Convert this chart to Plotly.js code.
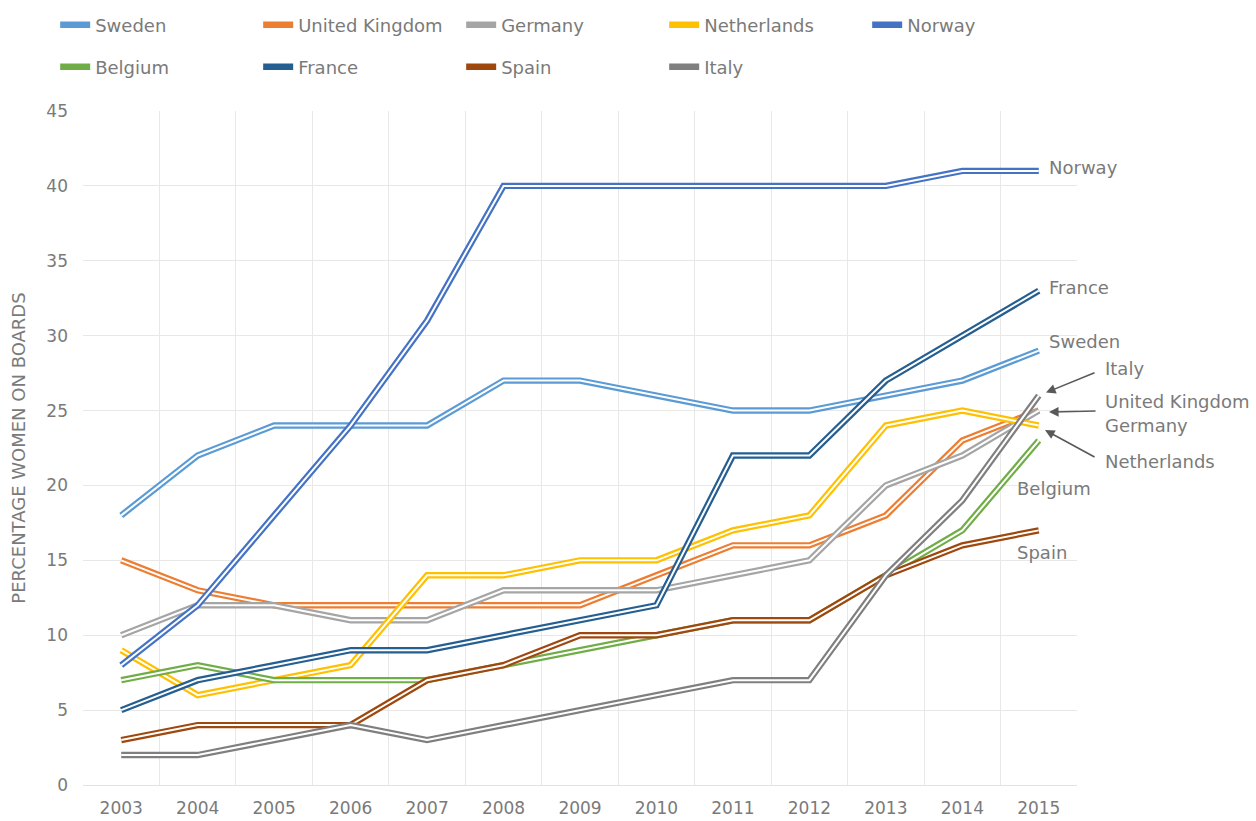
<!DOCTYPE html>
<html>
<head>
<meta charset="utf-8">
<script src="https://cdn.plot.ly/plotly-3.0.1.min.js"></script>
<style>
  html, body { margin: 0; padding: 0; background: #fff; }
  #chart { width: 1256px; height: 821px; }
</style>
</head>
<body>
<div id="chart"></div>
<script>
// ---- data ----
const years = ['2003','2004','2005','2006','2007','2008','2009','2010','2011','2012','2013','2014','2015'];
const countries = ['Sweden','United Kingdom','Germany','Netherlands','Norway','Belgium','France','Spain','Italy'];
const sweden      = [18, 22, 24, 24, 24, 27, 27, 26, 25, 25, 26, 27, 29];
const unitedKingdom = [15, 13, 12, 12, 12, 12, 12, 14, 16, 16, 18, 23, 25];
const germany     = [10, 12, 12, 11, 11, 13, 13, 13, 14, 15, 20, 22, 25];
const netherlands = [9, 6, 7, 8, 14, 14, 15, 15, 17, 18, 24, 25, 24];
const norway      = [8, 12, 18, 24, 31, 40, 40, 40, 40, 40, 40, 41, 41];
const belgium     = [7, 8, 7, 7, 7, 8, 9, 10, 11, 11, 14, 17, 23];
const france      = [5, 7, 8, 9, 9, 10, 11, 12, 22, 22, 27, 30, 33];
const spain       = [3, 4, 4, 4, 7, 8, 10, 10, 11, 11, 14, 16, 17];
const italy       = [2, 2, 3, 4, 3, 4, 5, 6, 7, 7, 14, 19, 26];
const seriesValues = [sweden, unitedKingdom, germany, netherlands, norway, belgium, france, spain, italy];
const colors = ['#5B9BD5','#ED7D31','#A5A5A5','#FFC000','#4472C4','#70AD47','#255E91','#9E480E','#7F7F7F'];

const FONT = 'DejaVu Sans, sans-serif';
const TXT = '#7a7a7a';

const traces = [];
countries.forEach((name, i) => {
  const legendId = i < 5 ? 'legend' : 'legend2';
  traces.push({
    type: 'scatter', mode: 'lines', name: name, x: years, y: seriesValues[i],
    line: { color: colors[i], width: 6.4 }, legend: legendId, hoverinfo: 'skip'
  });
  traces.push({
    type: 'scatter', mode: 'lines', name: name + ' inner', x: years, y: seriesValues[i],
    line: { color: '#ffffff', width: 2 }, showlegend: false, hoverinfo: 'skip'
  });
});

// end labels (text), x in paper units, y in data units
const labelDefs = [
  { t: 'Norway', x: 0.9698, y: 41.2 },
  { t: 'France', x: 0.9698, y: 33.2 },
  { t: 'Sweden', x: 0.9698, y: 29.6 },
  { t: 'Italy', x: 1.0261, y: 27.8 },
  { t: 'United Kingdom', x: 1.0261, y: 25.6 },
  { t: 'Germany', x: 1.0261, y: 24.0 },
  { t: 'Netherlands', x: 1.0261, y: 21.6 },
  { t: 'Belgium', x: 0.9377, y: 19.8 },
  { t: 'Spain', x: 0.9377, y: 15.55 }
];
const annotations = labelDefs.map(d => ({
  xref: 'paper', yref: 'y', x: d.x, y: d.y, text: d.t, showarrow: false,
  xanchor: 'left', yanchor: 'middle', font: { family: FONT, size: 18, color: TXT }
}));
// arrows (head -> tail), x in paper units
const arrowDefs = [
  { hx: 0.9688, hy: 26.2, tx: 1.0191, ty: 27.57 },
  { hx: 0.9718, hy: 24.9, tx: 1.0201, ty: 24.97 },
  { hx: 0.9678, hy: 23.7, tx: 1.0191, ty: 21.85 }
];
arrowDefs.forEach(a => annotations.push({
  xref: 'paper', yref: 'y', axref: 'pixel', ayref: 'pixel', x: a.hx, y: a.hy,
  ax: (a.tx - a.hx) * 995, ay: -(a.ty - a.hy) * (674 / 45),
  text: '', showarrow: true, arrowhead: 2, arrowsize: 1.2, arrowwidth: 1.6, arrowcolor: '#595959'
}));

const legendCommon = {
  orientation: 'h', xanchor: 'left', yanchor: 'middle', entrywidth: 158, entrywidthmode: 'pixels',
  font: { family: FONT, size: 18, color: TXT }, bgcolor: 'rgba(0,0,0,0)', borderwidth: 0,
  itemclick: false, itemdoubleclick: false
};

const layout = {
  width: 1256, height: 821,
  margin: { l: 83, r: 179, t: 111, b: 36, autoexpand: false },
  paper_bgcolor: '#ffffff', plot_bgcolor: '#ffffff',
  font: { family: FONT, color: TXT },
  showlegend: true,
  legend: Object.assign({}, legendCommon, { x: -0.028, y: 1.1276 }),
  legend2: Object.assign({}, legendCommon, { x: -0.028, y: 1.0653 }),
  xaxis: {
    type: 'category', range: [-0.5, 12.5], tickson: 'boundaries',
    showgrid: true, gridcolor: '#e8e8e8', gridwidth: 1, ticks: '', showline: false,
    zeroline: false, tickfont: { family: FONT, size: 17, color: TXT }, ticklabelstandoff: 11,
    fixedrange: true
  },
  yaxis: {
    range: [0, 45], dtick: 5, showgrid: true, gridcolor: '#e8e8e8', gridwidth: 1,
    zeroline: true, zerolinecolor: '#e3e3e3', zerolinewidth: 1, ticks: '', showline: false,
    tickfont: { family: FONT, size: 17, color: TXT }, ticklabelstandoff: 14,
    title: { text: 'PERCENTAGE WOMEN ON BOARDS', font: { family: FONT, size: 18, color: TXT }, standoff: 16 },
    fixedrange: true
  },
  annotations: annotations
};

Plotly.newPlot('chart', traces, layout, { staticPlot: true, displayModeBar: false });
</script>
</body>
</html>
